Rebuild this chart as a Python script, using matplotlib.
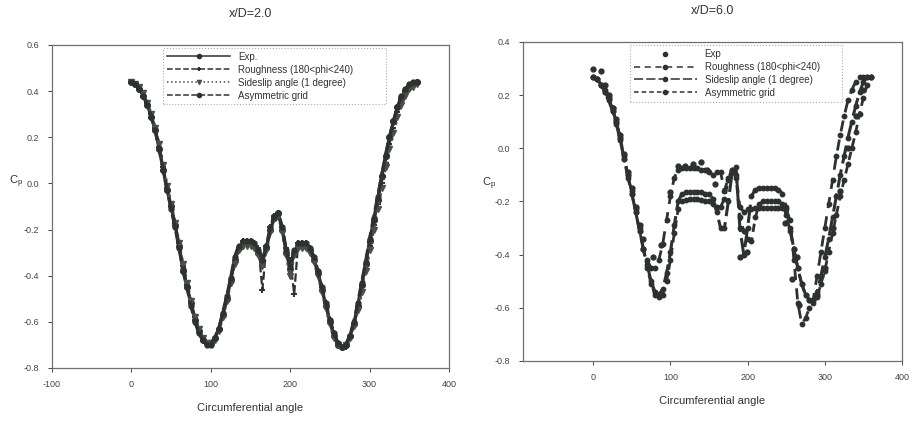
import matplotlib
matplotlib.use('Agg')
import matplotlib.pyplot as plt

plt.rcParams['font.family'] = ['Liberation Sans', 'DejaVu Sans']
plt.rcParams['axes.unicode_minus'] = False

ang = list(range(0, 365, 5))

# x/D = 2.0
l_exp = [0.44, 0.43, 0.41, 0.38, 0.34, 0.29, 0.23, 0.15, 0.06, -0.03, -0.10, -0.18, -0.27, -0.38, -0.45,
         -0.52, -0.59, -0.64, -0.68, -0.69, -0.69, -0.67, -0.63, -0.57, -0.50, -0.42, -0.33, -0.28, -0.26,
         -0.26, -0.26, -0.27, -0.30, -0.34, -0.28, -0.20, -0.15, -0.13, -0.20, -0.30, -0.37, -0.30, -0.27,
         -0.27, -0.27, -0.29, -0.33, -0.39, -0.46, -0.53, -0.60, -0.66, -0.70, -0.71, -0.70, -0.66, -0.61,
         -0.53, -0.44, -0.35, -0.25, -0.16, -0.07, 0.03, 0.12, 0.20, 0.27, 0.33, 0.37, 0.40, 0.42, 0.43, 0.44]
l_rough = [0.44, 0.43, 0.41, 0.38, 0.35, 0.30, 0.24, 0.16, 0.07, -0.02, -0.10, -0.17, -0.26, -0.36, -0.44,
           -0.51, -0.58, -0.63, -0.67, -0.69, -0.70, -0.68, -0.64, -0.58, -0.51, -0.43, -0.34, -0.28, -0.25,
           -0.25, -0.25, -0.26, -0.28, -0.46, -0.27, -0.19, -0.14, -0.13, -0.19, -0.28, -0.33, -0.48, -0.26,
           -0.26, -0.26, -0.28, -0.32, -0.38, -0.45, -0.52, -0.59, -0.65, -0.69, -0.71, -0.71, -0.67, -0.62,
           -0.55, -0.46, -0.37, -0.27, -0.18, -0.09, 0.00, 0.09, 0.17, 0.24, 0.31, 0.36, 0.40, 0.42, 0.43, 0.44]
l_side = [0.44, 0.43, 0.42, 0.39, 0.35, 0.30, 0.24, 0.17, 0.08, -0.01, -0.09, -0.17, -0.26, -0.35, -0.43,
          -0.51, -0.58, -0.63, -0.67, -0.69, -0.69, -0.68, -0.64, -0.58, -0.51, -0.43, -0.35, -0.29, -0.27,
          -0.27, -0.27, -0.28, -0.31, -0.36, -0.29, -0.21, -0.15, -0.14, -0.21, -0.31, -0.40, -0.31, -0.28,
          -0.28, -0.28, -0.30, -0.34, -0.40, -0.47, -0.54, -0.61, -0.67, -0.70, -0.71, -0.70, -0.67, -0.62,
          -0.55, -0.47, -0.38, -0.29, -0.20, -0.11, -0.02, 0.07, 0.15, 0.22, 0.29, 0.34, 0.38, 0.41, 0.42, 0.43]
l_asym = [0.44, 0.43, 0.41, 0.38, 0.34, 0.29, 0.23, 0.15, 0.06, -0.03, -0.11, -0.19, -0.28, -0.37, -0.45,
          -0.53, -0.60, -0.65, -0.68, -0.70, -0.70, -0.67, -0.63, -0.56, -0.49, -0.41, -0.32, -0.27, -0.25,
          -0.25, -0.25, -0.26, -0.29, -0.33, -0.27, -0.19, -0.14, -0.13, -0.19, -0.29, -0.36, -0.29, -0.26,
          -0.26, -0.26, -0.28, -0.32, -0.38, -0.45, -0.52, -0.59, -0.65, -0.69, -0.71, -0.70, -0.66, -0.60,
          -0.52, -0.43, -0.34, -0.24, -0.15, -0.06, 0.03, 0.12, 0.20, 0.27, 0.33, 0.38, 0.41, 0.43, 0.44, 0.44]

# x/D = 6.0
r_rough = [0.27, 0.26, 0.24, 0.21, 0.19, 0.14, 0.10, 0.04, -0.04, -0.10, -0.16, -0.23, -0.30, -0.38, -0.42,
           -0.45, -0.45, -0.42, -0.36, -0.27, -0.18, -0.11, -0.08, -0.075, -0.075, -0.075, -0.075, -0.075,
           -0.08, -0.08, -0.09, -0.10, -0.09, -0.09, -0.16, -0.11, -0.08, -0.10, -0.22, -0.24, -0.23, -0.23,
           -0.225, -0.225, -0.225, -0.225, -0.225, -0.225, -0.225, -0.225, -0.23, -0.27, -0.42, -0.58, -0.66,
           -0.64, -0.60, -0.57, -0.48, -0.39, -0.30, -0.21, -0.12, -0.03, 0.05, 0.12, 0.18, 0.22, 0.25, 0.27,
           0.27, 0.27, 0.27]
r_side = [0.27, 0.26, 0.24, 0.21, 0.18, 0.14, 0.09, 0.03, -0.04, -0.11, -0.17, -0.24, -0.31, -0.38, -0.44,
          -0.50, -0.54, -0.55, -0.53, -0.47, -0.39, -0.29, -0.20, -0.17, -0.165, -0.165, -0.165, -0.165,
          -0.165, -0.17, -0.17, -0.19, -0.24, -0.30, -0.30, -0.20, -0.09, -0.07, -0.30, -0.40, -0.30, -0.18,
          -0.155, -0.15, -0.15, -0.15, -0.15, -0.15, -0.155, -0.17, -0.22, -0.30, -0.38, -0.45, -0.51, -0.55,
          -0.57, -0.57, -0.54, -0.48, -0.41, -0.34, -0.26, -0.18, -0.10, -0.03, 0.04, 0.10, 0.16, 0.21, 0.25,
          0.27, 0.27]
r_asym = [0.27, 0.26, 0.24, 0.22, 0.19, 0.15, 0.10, 0.04, -0.03, -0.10, -0.17, -0.24, -0.31, -0.38, -0.45,
          -0.51, -0.55, -0.56, -0.55, -0.50, -0.42, -0.32, -0.23, -0.20, -0.195, -0.19, -0.19, -0.19, -0.195,
          -0.20, -0.20, -0.21, -0.22, -0.22, -0.19, -0.12, -0.08, -0.11, -0.26, -0.31, -0.34, -0.35, -0.26,
          -0.21, -0.20, -0.20, -0.20, -0.20, -0.20, -0.21, -0.25, -0.31, -0.38, -0.45, -0.51, -0.55, -0.57,
          -0.58, -0.56, -0.51, -0.46, -0.39, -0.32, -0.25, -0.18, -0.12, -0.06, 0.00, 0.06, 0.13, 0.19, 0.24,
          0.27]
exp6_x = [0, 10, 15, 20, 25, 30, 35, 40, 45, 50, 55, 60, 65, 78, 88, 99, 110, 119, 129, 139, 148, 158,
          190, 199, 249, 257, 264, 266, 290, 300, 310, 320, 330, 340, 350]
exp6_y = [0.30, 0.29, 0.24, 0.20, 0.15, 0.11, 0.05, -0.02, -0.09, -0.15, -0.22, -0.29, -0.34, -0.41, -0.365,
          -0.165, -0.065, -0.065, -0.06, -0.05, -0.08, -0.135, -0.41, -0.39, -0.28, -0.49, -0.41, -0.59,
          -0.55, -0.45, -0.30, -0.16, 0.00, 0.12, 0.22]

ink = '#2e322e'
frame = '#707070'

fig = plt.figure(figsize=(9.11, 4.24), dpi=100)
ax1 = fig.add_axes([0.0571, 0.1321, 0.4358, 0.7618])
ax2 = fig.add_axes([0.5741, 0.1486, 0.4160, 0.7524])

ax1.plot(ang, l_exp, '-', color=ink, lw=2.4, marker='o', ms=4, label='Exp.')
ax1.plot(ang, l_rough, '--', color=ink, lw=1.6, marker='+', ms=5, mew=1.4, label='Roughness (180<phi<240)')
ax1.plot(ang, l_side, ':', color='#4a4f4a', lw=2.2, marker='v', ms=4, label='Sideslip angle (1 degree)')
ax1.plot(ang, l_asym, '--', color=ink, lw=2.4, marker='o', ms=3.5, label='Asymmetric grid')

ax2.plot(exp6_x, exp6_y, 'o', color=ink, ms=3.5, label='Exp')
ax2.plot(ang, r_rough, '--', color=ink, lw=2.0, marker='o', ms=3.2, dashes=(4, 3), label='Roughness (180<phi<240)')
ax2.plot(ang, r_side, '--', color=ink, lw=2.2, marker='o', ms=3.2, dashes=(6, 2), label='Sideslip angle (1 degree)')
ax2.plot(ang, r_asym, '--', color=ink, lw=2.0, marker='o', ms=3.2, dashes=(3, 2), label='Asymmetric grid')

ax1.set_xlim(-100, 400)
ax1.set_ylim(-0.8, 0.6)
ax1.set_xticks([-100, 0, 100, 200, 300, 400])
ax1.set_yticks([0.6, 0.4, 0.2, 0.0, -0.2, -0.4, -0.6, -0.8])

ax2.set_xlim(-91, 400)
ax2.set_ylim(-0.8, 0.4)
ax2.set_xticks([0, 100, 200, 300, 400])
ax2.set_yticks([0.4, 0.2, 0.0, -0.2, -0.4, -0.6, -0.8])

for ax in (ax1, ax2):
    ax.yaxis.set_major_formatter(matplotlib.ticker.FormatStrFormatter('%.1f'))
    ax.tick_params(direction='out', length=3, width=0.7, labelsize=6.5, colors='#444444', pad=6)
    for s in ax.spines.values():
        s.set_color(frame)
        s.set_linewidth(0.9)
    ax.set_xlabel('Circumferential angle', fontsize=8, color='#333333', labelpad=10)

ax1.set_ylabel('$\\mathregular{C_p}$', fontsize=8, color='#333333', rotation=0, labelpad=6)
ax2.set_ylabel('$\\mathregular{C_p}$', fontsize=8, color='#333333', rotation=0, labelpad=6)
ax1.yaxis.set_label_coords(-0.09, 0.55)
ax2.yaxis.set_label_coords(-0.09, 0.53)

ax1.set_title('x/D=2.0', fontsize=9, color='#333333', pad=20)
ax2.set_title('x/D=6.0', fontsize=9, color='#333333', pad=20)

leg1 = ax1.legend(loc='upper left', bbox_to_anchor=(0.28, 0.737, 0.56, 0.254), mode='expand',
                  fontsize=7, handlelength=6.5, labelspacing=0.3, borderaxespad=0, fancybox=False)
leg2 = ax2.legend(loc='upper left', bbox_to_anchor=(0.282, 0.74, 0.56, 0.25), mode='expand',
                  fontsize=7, handlelength=6.5, labelspacing=0.3, borderaxespad=0, fancybox=False)
for leg in (leg1, leg2):
    leg.get_frame().set_edgecolor('#999999')
    leg.get_frame().set_linestyle(':')
    leg.get_frame().set_linewidth(0.8)
    for h in leg.legend_handles:
        h.set_linewidth(1.1)
        h.set_markersize(3)
    for t in leg.get_texts():
        t.set_color('#333333')

fig.savefig('out.png', dpi=100)
